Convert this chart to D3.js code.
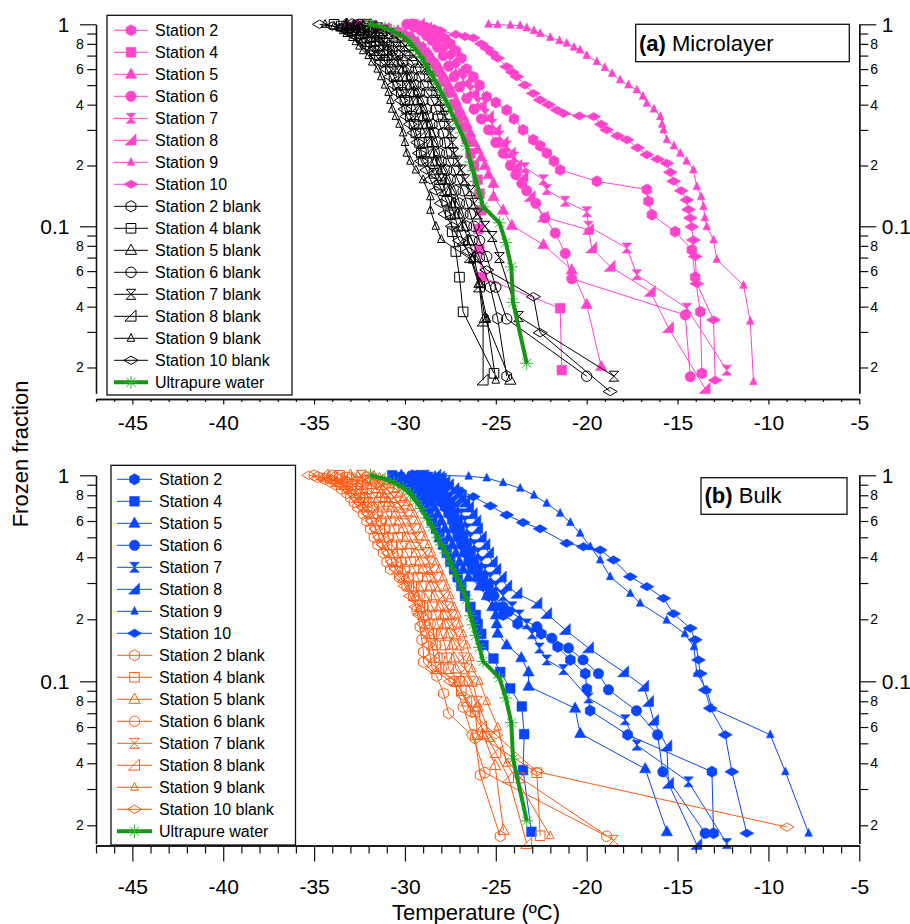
<!DOCTYPE html>
<html>
<head>
<meta charset="utf-8">
<script src="https://cdn.jsdelivr.net/npm/d3@7"></script>
<style>
  body { margin: 0; background: #fff; }
  svg { display: block; font-family: "Liberation Sans", Arial, Helvetica, sans-serif; }
</style>
</head>
<body>
<div id="chart"></div>
<script>
// ---- categories / ticks ----
const stationNames = ["Station 2", "Station 4", "Station 5", "Station 6", "Station 7", "Station 8", "Station 9", "Station 10"];
const stationShapes = ["hexagon", "square", "triangle", "circle", "hourglass", "wedge", "smallTri", "diamond"];
const xMajorTicks = [-45, -40, -35, -30, -25, -20, -15, -10, -5];
const xMinorTicks = [-47, -46, -44, -43, -42, -41, -39, -38, -37, -36, -34, -33, -32, -31, -29, -28, -27, -26, -24, -23, -22, -21, -19, -18, -17, -16, -14, -13, -12, -11, -9, -8, -7, -6];
const yMajorTicks = [1, 0.1];
const yMajorLabels = ["1", "0.1"];
const yMinorTicks = [0.9, 0.8, 0.7, 0.6, 0.5, 0.4, 0.3, 0.2, 0.09, 0.08, 0.07, 0.06, 0.05, 0.04, 0.03, 0.02];
const yMinorLabels = ["", "8", "", "6", "", "4", "", "2", "", "8", "", "6", "", "4", "", "2"];

// ---- data: [temperature (degC), frozen fraction] ----
// (a) Microlayer samples
const microS2 = [[-29.6,1],[-29.2,0.98],[-28.8,0.96],[-28.4,0.937],[-28.1,0.9],[-27.8,0.85],[-27.5,0.8],[-27.2,0.74],[-26.9,0.68],[-26.6,0.6],[-26.24,0.55],[-25.9,0.5],[-25.5,0.438],[-25.0,0.41],[-24.4,0.376],[-24.0,0.34],[-23.5,0.3],[-22.94,0.268],[-22.56,0.25],[-22.19,0.23],[-21.8,0.21],[-21.46,0.19],[-19.44,0.167],[-16.69,0.152],[-16.6,0.133],[-16.41,0.114],[-15.13,0.094],[-14.21,0.0764],[-14.03,0.056],[-13.75,0.0377],[-13.66,0.0187]];
const microS4 = [[-32.6,1],[-31.8,0.98],[-31.0,0.95],[-30.4,0.91],[-29.9,0.87],[-29.5,0.82],[-29.1,0.76],[-28.8,0.7],[-28.5,0.64],[-28.2,0.58],[-27.9,0.52],[-27.6,0.46],[-27.3,0.4],[-27.0,0.35],[-26.8,0.31],[-26.6,0.27],[-26.4,0.23],[-26.2,0.2],[-26.0,0.17],[-25.9,0.145],[-25.8,0.12],[-25.95,0.097],[-25.9,0.077],[-25.77,0.056],[-21.46,0.0393],[-21.37,0.0194]];
const microS5 = [[-33.2,1],[-32.4,0.99],[-31.6,0.97],[-30.9,0.95],[-30.4,0.93],[-30.0,0.9],[-29.6,0.86],[-29.3,0.81],[-29.0,0.77],[-28.7,0.72],[-28.5,0.68],[-28.2,0.63],[-28.0,0.58],[-27.8,0.54],[-27.6,0.5],[-27.4,0.46],[-27.2,0.42],[-27.0,0.38],[-26.8,0.35],[-26.6,0.32],[-26.4,0.29],[-26.2,0.26],[-26.0,0.24],[-25.8,0.22],[-25.6,0.2],[-25.4,0.18],[-25.13,0.163],[-25.13,0.14],[-24.6,0.12],[-24.12,0.101],[-22.38,0.081],[-20.82,0.0608],[-20.0,0.041],[-19.2,0.0202]];
const microS6 = [[-29.9,1],[-29.5,0.97],[-29.1,0.93],[-28.8,0.88],[-28.5,0.83],[-28.2,0.77],[-27.9,0.7],[-27.6,0.62],[-27.3,0.55],[-27.0,0.49],[-26.6,0.43],[-26.2,0.38],[-25.8,0.34],[-25.4,0.3],[-25.0,0.26],[-24.6,0.23],[-24.2,0.2],[-23.9,0.18],[-23.57,0.163],[-23.3,0.15],[-22.8,0.13],[-22.3,0.11],[-21.73,0.0926],[-21.18,0.0734],[-20.82,0.055],[-14.58,0.0364],[-14.3,0.018]];
const microS7 = [[-29.5,1],[-29.1,0.96],[-28.7,0.91],[-28.4,0.86],[-28.1,0.8],[-27.8,0.73],[-27.5,0.66],[-27.2,0.6],[-26.8,0.53],[-26.4,0.47],[-26.0,0.41],[-25.6,0.36],[-25.2,0.32],[-24.8,0.28],[-24.4,0.25],[-24.0,0.22],[-23.4,0.195],[-22.38,0.17],[-22.2,0.152],[-21.18,0.133],[-19.99,0.118],[-19.9,0.1],[-17.79,0.078],[-17.24,0.0575],[-14.49,0.0393],[-12.29,0.0194]];
const microS8 = [[-29.2,1],[-28.8,0.96],[-28.5,0.92],[-28.2,0.86],[-27.9,0.8],[-27.6,0.73],[-27.3,0.66],[-27.0,0.59],[-26.6,0.52],[-26.2,0.46],[-25.8,0.4],[-25.4,0.35],[-25.0,0.3],[-24.6,0.26],[-24.2,0.23],[-23.84,0.2],[-23.5,0.176],[-23.11,0.14],[-22.38,0.111],[-19.9,0.0962],[-19.72,0.078],[-18.71,0.0632],[-16.5,0.0475],[-15.5,0.0314],[-13.48,0.0157]];
const microS9 = [[-25.4,1],[-24.9,0.995],[-24.2,0.99],[-23.66,0.985],[-23.3,0.96],[-22.9,0.93],[-22.56,0.9],[-22.0,0.86],[-21.5,0.83],[-21.1,0.805],[-20.7,0.77],[-20.36,0.746],[-20.0,0.7],[-19.44,0.653],[-19.0,0.61],[-18.6,0.57],[-18.16,0.53],[-17.7,0.5],[-17.24,0.473],[-16.9,0.44],[-16.69,0.406],[-16.3,0.38],[-15.95,0.349],[-15.85,0.32],[-15.77,0.3],[-15.59,0.268],[-15.2,0.25],[-14.85,0.23],[-14.5,0.21],[-14.13,0.19],[-13.94,0.157],[-13.7,0.14],[-13.57,0.125],[-13.5,0.11],[-13.39,0.0994],[-13.02,0.0856],[-12.84,0.0684],[-11.37,0.051],[-11.0,0.0339],[-10.82,0.017]];
const microS10 = [[-29.4,1],[-29.1,0.98],[-28.8,0.96],[-28.06,0.93],[-27.2,0.89],[-26.7,0.87],[-26.24,0.855],[-25.8,0.8],[-25.5,0.76],[-25.2,0.72],[-24.9,0.68],[-24.4,0.617],[-24.1,0.58],[-23.84,0.55],[-23.4,0.5],[-22.94,0.455],[-22.56,0.422],[-22.1,0.4],[-21.64,0.376],[-21.28,0.362],[-20.4,0.352],[-19.62,0.349],[-19.2,0.32],[-18.9,0.3],[-18.3,0.28],[-17.79,0.268],[-17.2,0.245],[-16.69,0.226],[-16.1,0.215],[-15.59,0.205],[-15.4,0.185],[-15.22,0.167],[-14.8,0.15],[-14.49,0.135],[-14.4,0.121],[-14.3,0.11],[-14.22,0.0994],[-14.13,0.0856],[-14.03,0.0708],[-13.94,0.052],[-13.02,0.0344],[-12.93,0.0173]];

// (a) Microlayer blanks
const microS2b = [[-32.9,1],[-32.6,0.98],[-32.3,0.96],[-32.0,0.93],[-31.7,0.9],[-31.4,0.86],[-31.1,0.82],[-30.9,0.78],[-30.7,0.74],[-30.4,0.7],[-30.1,0.65],[-29.8,0.6],[-29.6,0.55],[-29.4,0.5],[-29.2,0.46],[-29.0,0.42],[-28.8,0.38],[-28.7,0.35],[-28.5,0.32],[-28.4,0.29],[-28.2,0.26],[-28.1,0.23],[-28.0,0.21],[-27.7,0.19],[-27.5,0.17],[-27.2,0.15],[-27.0,0.13],[-26.8,0.115],[-26.6,0.1],[-26.3,0.085],[-25.9,0.07],[-25.3,0.05],[-24.9,0.035],[-24.4,0.0181]];
const microS4b = [[-33.9,1],[-33.5,0.98],[-33.2,0.96],[-32.9,0.93],[-32.7,0.9],[-32.4,0.86],[-32.1,0.82],[-31.9,0.78],[-31.7,0.74],[-31.4,0.7],[-31.1,0.65],[-30.8,0.6],[-30.6,0.55],[-30.4,0.5],[-30.2,0.46],[-30.0,0.42],[-29.9,0.38],[-29.7,0.35],[-29.5,0.32],[-29.4,0.29],[-29.2,0.26],[-29.1,0.23],[-29.0,0.21],[-28.4,0.183],[-28.1,0.16],[-27.7,0.133],[-27.5,0.114],[-27.4,0.094],[-27.2,0.075],[-27.0,0.056],[-26.8,0.0377],[-25.1,0.0187]];
const microS5b = [[-33.2,1],[-32.8,0.98],[-32.5,0.96],[-32.3,0.93],[-32.0,0.9],[-31.7,0.86],[-31.4,0.82],[-31.2,0.78],[-31.0,0.74],[-30.7,0.7],[-30.4,0.65],[-30.1,0.6],[-29.9,0.55],[-29.7,0.5],[-29.5,0.46],[-29.3,0.42],[-29.1,0.38],[-29.0,0.35],[-28.8,0.32],[-28.6,0.29],[-28.5,0.26],[-28.4,0.23],[-28.3,0.21],[-28.0,0.19],[-27.8,0.17],[-27.5,0.15],[-27.3,0.13],[-27.1,0.115],[-26.8,0.1],[-26.5,0.085],[-26.2,0.07],[-25.9,0.052],[-25.6,0.035],[-24.2,0.0173]];
const microS6b = [[-32.5,1],[-32.2,0.98],[-31.9,0.96],[-31.6,0.93],[-31.3,0.9],[-31.0,0.86],[-30.7,0.82],[-30.5,0.78],[-30.3,0.74],[-30.0,0.7],[-29.6,0.65],[-29.4,0.6],[-29.2,0.55],[-29.0,0.5],[-28.8,0.46],[-28.5,0.42],[-28.3,0.38],[-28.2,0.35],[-28.1,0.32],[-27.9,0.29],[-27.8,0.26],[-27.7,0.23],[-27.6,0.21],[-27.3,0.19],[-27.1,0.17],[-26.8,0.15],[-26.6,0.13],[-26.4,0.115],[-26.2,0.1],[-25.9,0.085],[-25.5,0.0708],[-25.0,0.05],[-24.4,0.0348],[-20.0,0.0181]];
const microS7b = [[-32.1,1],[-31.8,0.98],[-31.5,0.96],[-31.2,0.93],[-30.9,0.9],[-30.5,0.86],[-30.2,0.82],[-30.0,0.78],[-29.8,0.74],[-29.5,0.7],[-29.2,0.65],[-28.9,0.6],[-28.7,0.55],[-28.5,0.5],[-28.3,0.46],[-28.1,0.42],[-27.9,0.38],[-27.8,0.35],[-27.6,0.32],[-27.5,0.29],[-27.4,0.26],[-27.3,0.23],[-27.1,0.21],[-26.9,0.19],[-26.7,0.17],[-26.4,0.15],[-26.2,0.13],[-26.0,0.115],[-25.6,0.1],[-25.2,0.089],[-24.8,0.07],[-23.75,0.0357],[-18.5,0.0181]];
const microS8b = [[-33.5,1],[-33.1,0.98],[-32.8,0.96],[-32.5,0.93],[-32.3,0.9],[-31.9,0.86],[-31.7,0.82],[-31.5,0.78],[-31.2,0.74],[-31.0,0.7],[-30.7,0.65],[-30.4,0.6],[-30.2,0.55],[-30.0,0.5],[-29.8,0.46],[-29.6,0.42],[-29.4,0.38],[-29.3,0.35],[-29.1,0.32],[-28.9,0.29],[-28.8,0.26],[-28.7,0.23],[-28.5,0.21],[-28.3,0.19],[-28.0,0.17],[-27.8,0.15],[-27.5,0.13],[-27.3,0.115],[-27.1,0.1],[-26.8,0.085],[-26.4,0.07],[-25.9,0.05],[-25.7,0.0339],[-25.7,0.0173]];
const microS9b = [[-34.4,1],[-33.9,0.98],[-33.6,0.96],[-33.4,0.93],[-33.2,0.9],[-32.9,0.86],[-32.7,0.82],[-32.5,0.78],[-32.3,0.74],[-32.0,0.7],[-31.8,0.65],[-31.5,0.6],[-31.3,0.55],[-31.1,0.5],[-30.9,0.46],[-30.8,0.42],[-30.7,0.38],[-30.5,0.35],[-30.3,0.32],[-30.1,0.29],[-30.0,0.26],[-29.9,0.23],[-29.7,0.21],[-29.4,0.19],[-29.0,0.17],[-28.6,0.14],[-28.6,0.12],[-28.3,0.1],[-28.0,0.086],[-26.3,0.068],[-25.9,0.052],[-25.5,0.035],[-25.0,0.0173]];
const microS10b = [[-34.7,1],[-34.0,0.98],[-33.5,0.96],[-33.2,0.93],[-33.0,0.9],[-32.6,0.86],[-32.3,0.82],[-32.1,0.78],[-31.8,0.74],[-31.6,0.7],[-31.3,0.65],[-31.0,0.6],[-30.8,0.55],[-30.6,0.5],[-30.4,0.46],[-30.2,0.42],[-30.0,0.38],[-29.9,0.35],[-29.7,0.32],[-29.5,0.29],[-29.3,0.26],[-29.2,0.23],[-29.1,0.21],[-28.8,0.19],[-28.6,0.17],[-28.3,0.15],[-28.0,0.13],[-27.8,0.115],[-27.4,0.1],[-27.0,0.085],[-26.5,0.075],[-25.5,0.0608],[-22.93,0.0448],[-22.56,0.0297],[-18.71,0.0152]];

// (b) Bulk samples
const bulkS2 = [[-29.6,1],[-29.3,0.98],[-29.2,0.96],[-29.0,0.93],[-28.8,0.9],[-28.5,0.86],[-28.3,0.82],[-28.1,0.78],[-28.0,0.74],[-27.8,0.7],[-27.6,0.65],[-27.4,0.6],[-27.3,0.55],[-27.1,0.5],[-26.9,0.46],[-26.7,0.42],[-26.5,0.38],[-26.3,0.35],[-26.0,0.32],[-25.7,0.29],[-25.4,0.26],[-25.0,0.23],[-24.6,0.21],[-23.8,0.19],[-22.5,0.17],[-21.6,0.147],[-20.9,0.127],[-20.08,0.109],[-19.99,0.092],[-19.81,0.072],[-17.75,0.055],[-13.11,0.0364],[-13.02,0.0183]];
const bulkS4 = [[-30.7,1],[-30.3,0.98],[-30.2,0.96],[-30.0,0.93],[-29.8,0.9],[-29.5,0.86],[-29.3,0.82],[-29.1,0.78],[-29.0,0.74],[-28.9,0.7],[-28.7,0.65],[-28.5,0.6],[-28.3,0.55],[-28.1,0.5],[-27.9,0.46],[-27.7,0.42],[-27.5,0.38],[-27.3,0.35],[-27.1,0.32],[-26.9,0.29],[-26.7,0.26],[-26.4,0.23],[-26.1,0.21],[-26.0,0.19],[-25.8,0.17],[-25.68,0.15],[-25.13,0.129],[-24.76,0.111],[-24.21,0.0924],[-23.57,0.0755],[-23.44,0.0554],[-23.5,0.0371],[-23.04,0.0186]];
const bulkS5 = [[-30.2,1],[-29.8,0.98],[-29.7,0.96],[-29.5,0.93],[-29.3,0.9],[-29.0,0.86],[-28.8,0.82],[-28.6,0.78],[-28.5,0.74],[-28.4,0.7],[-28.2,0.65],[-28.0,0.6],[-27.8,0.55],[-27.6,0.5],[-27.4,0.46],[-27.2,0.42],[-27.0,0.38],[-26.8,0.35],[-26.5,0.32],[-25.9,0.29],[-25.5,0.26],[-25.2,0.23],[-25.0,0.21],[-24.95,0.19],[-24.9,0.171],[-24.4,0.15],[-23.6,0.13],[-23.2,0.111],[-23.2,0.0945],[-20.64,0.074],[-20.36,0.0558],[-16.78,0.0376],[-15.59,0.0186]];
const bulkS6 = [[-29.3,1],[-29.0,0.98],[-28.9,0.96],[-28.7,0.93],[-28.5,0.9],[-28.2,0.86],[-28.0,0.82],[-27.8,0.78],[-27.7,0.74],[-27.5,0.7],[-27.3,0.65],[-27.1,0.6],[-27.0,0.55],[-26.8,0.5],[-26.6,0.46],[-26.4,0.42],[-26.2,0.38],[-26.0,0.35],[-25.7,0.32],[-25.4,0.29],[-25.1,0.26],[-24.6,0.23],[-24.3,0.218],[-22.74,0.184],[-21.92,0.162],[-21.0,0.145],[-20.2,0.127],[-19.35,0.109],[-18.8,0.091],[-17.26,0.072],[-16.1,0.055],[-15.81,0.0364],[-13.48,0.0183]];
const bulkS7 = [[-28.9,1],[-28.7,0.98],[-28.5,0.96],[-28.3,0.93],[-28.1,0.9],[-27.9,0.86],[-27.7,0.82],[-27.5,0.78],[-27.3,0.74],[-27.1,0.7],[-26.9,0.65],[-26.7,0.6],[-26.6,0.55],[-26.4,0.5],[-26.2,0.46],[-26.0,0.42],[-25.8,0.38],[-25.6,0.35],[-25.3,0.32],[-25.0,0.29],[-24.6,0.26],[-24.1,0.23],[-23.7,0.21],[-23.3,0.19],[-23.0,0.17],[-22.6,0.145],[-22.2,0.127],[-21.28,0.114],[-19.9,0.083],[-17.88,0.065],[-17.24,0.049],[-14.4,0.0325],[-12.29,0.0163]];
const bulkS8 = [[-28.3,1],[-28.1,0.98],[-28.0,0.96],[-27.8,0.93],[-27.6,0.9],[-27.3,0.86],[-27.1,0.82],[-26.9,0.78],[-26.7,0.74],[-26.5,0.7],[-26.3,0.65],[-26.1,0.6],[-26.0,0.55],[-25.8,0.5],[-25.6,0.46],[-25.4,0.42],[-25.2,0.38],[-25.0,0.35],[-24.7,0.32],[-24.4,0.29],[-23.84,0.267],[-22.74,0.239],[-22.2,0.213],[-21.18,0.178],[-19.9,0.145],[-17.97,0.111],[-16.87,0.0945],[-16.6,0.0797],[-16.32,0.0646],[-15.59,0.0484],[-15.5,0.0319],[-13.94,0.0161]];
const bulkS9 = [[-28.34,1],[-26.5,0.99],[-25.5,0.97],[-24.6,0.92],[-23.66,0.865],[-22.9,0.8],[-22.2,0.731],[-21.46,0.654],[-20.9,0.59],[-20.36,0.523],[-19.8,0.45],[-19.26,0.388],[-18.71,0.322],[-17.6,0.267],[-17.06,0.239],[-15.6,0.198],[-14.6,0.17],[-14.1,0.147],[-13.94,0.109],[-13.39,0.0908],[-13.11,0.074],[-9.9,0.055],[-9.07,0.0364],[-7.79,0.0183]];
const bulkS10 = [[-29.4,1],[-28.5,0.95],[-27.7,0.897],[-26.97,0.84],[-26.24,0.787],[-25.3,0.71],[-24.4,0.642],[-23.5,0.59],[-22.56,0.55],[-21.1,0.468],[-20.18,0.45],[-19.26,0.434],[-18.52,0.388],[-17.6,0.322],[-16.69,0.288],[-15.77,0.253],[-15.22,0.213],[-14.3,0.181],[-14.03,0.159],[-13.85,0.127],[-13.75,0.109],[-13.48,0.0908],[-13.2,0.074],[-12.38,0.055],[-12.01,0.0364],[-11.19,0.0183]];

// (b) Bulk blanks
const bulkS2b = [[-35.0,1],[-34.8,0.98],[-34.4,0.96],[-34.1,0.93],[-33.8,0.9],[-33.5,0.86],[-33.2,0.82],[-33.0,0.78],[-32.8,0.74],[-32.6,0.7],[-32.3,0.65],[-32.1,0.6],[-31.9,0.55],[-31.7,0.5],[-31.5,0.46],[-31.2,0.42],[-31.0,0.38],[-30.8,0.35],[-30.3,0.32],[-29.9,0.29],[-29.53,0.257],[-29.35,0.222],[-29.17,0.184],[-29.07,0.159],[-28.98,0.139],[-28.98,0.124],[-28.25,0.106],[-27.88,0.0874],[-27.6,0.0699],[-26.14,0.0529],[-25.86,0.0351],[-24.76,0.0177]];
const bulkS4b = [[-33.6,1],[-33.2,0.98],[-32.9,0.96],[-32.6,0.93],[-32.4,0.9],[-32.1,0.86],[-31.8,0.82],[-31.6,0.78],[-31.4,0.74],[-31.2,0.7],[-31.0,0.65],[-30.8,0.6],[-30.6,0.55],[-30.4,0.5],[-30.2,0.46],[-29.9,0.42],[-29.7,0.38],[-29.5,0.35],[-29.3,0.32],[-29.1,0.29],[-28.8,0.26],[-28.5,0.23],[-28.3,0.21],[-28.2,0.19],[-28.0,0.17],[-27.8,0.15],[-27.7,0.13],[-27.6,0.115],[-27.0,0.1],[-26.9,0.09],[-26.14,0.071],[-26.0,0.055],[-22.74,0.036],[-22.56,0.0178]];
const bulkS5b = [[-33.0,1],[-32.6,0.98],[-32.3,0.96],[-32.1,0.93],[-31.8,0.9],[-31.5,0.86],[-31.3,0.82],[-31.1,0.78],[-30.9,0.74],[-30.7,0.7],[-30.5,0.65],[-30.3,0.6],[-30.1,0.55],[-29.9,0.5],[-29.7,0.46],[-29.4,0.42],[-29.2,0.38],[-29.0,0.35],[-28.8,0.32],[-28.6,0.29],[-28.4,0.26],[-28.1,0.23],[-27.9,0.21],[-27.8,0.19],[-27.6,0.17],[-27.4,0.15],[-27.3,0.13],[-27.2,0.115],[-26.6,0.1],[-26.0,0.075],[-25.7,0.055],[-25.04,0.039],[-24.58,0.0189]];
const bulkS6b = [[-34.0,1],[-33.8,0.98],[-33.5,0.96],[-33.2,0.93],[-32.9,0.9],[-32.6,0.86],[-32.4,0.82],[-32.2,0.78],[-32.0,0.74],[-31.8,0.7],[-31.5,0.65],[-31.3,0.6],[-31.1,0.55],[-30.9,0.5],[-30.7,0.46],[-30.4,0.42],[-30.2,0.38],[-30.0,0.35],[-29.8,0.32],[-29.5,0.29],[-29.2,0.26],[-29.0,0.23],[-28.8,0.21],[-28.6,0.19],[-28.4,0.17],[-28.3,0.15],[-28.1,0.13],[-28.0,0.115],[-27.3,0.1],[-26.8,0.075],[-26.3,0.055],[-25.6,0.036],[-18.9,0.0177]];
const bulkS7b = [[-32.4,1],[-32.0,0.98],[-31.8,0.96],[-31.5,0.93],[-31.3,0.9],[-31.0,0.86],[-30.8,0.82],[-30.6,0.78],[-30.4,0.74],[-30.2,0.7],[-30.0,0.65],[-29.8,0.6],[-29.6,0.55],[-29.4,0.5],[-29.2,0.46],[-28.9,0.42],[-28.7,0.38],[-28.6,0.35],[-28.4,0.32],[-28.2,0.29],[-27.9,0.26],[-27.7,0.23],[-27.5,0.21],[-27.4,0.19],[-27.2,0.17],[-27.0,0.15],[-26.8,0.13],[-26.7,0.115],[-26.3,0.1],[-26.0,0.08],[-25.3,0.054],[-23.66,0.034],[-18.52,0.0169]];
const bulkS8b = [[-34.5,1],[-34.4,0.98],[-34.0,0.96],[-33.7,0.93],[-33.3,0.9],[-33.0,0.86],[-32.7,0.82],[-32.5,0.78],[-32.3,0.74],[-32.1,0.7],[-31.8,0.65],[-31.6,0.6],[-31.4,0.55],[-31.2,0.5],[-31.0,0.46],[-30.7,0.42],[-30.5,0.38],[-30.4,0.35],[-30.1,0.32],[-29.8,0.29],[-29.5,0.26],[-29.2,0.23],[-29.0,0.21],[-28.9,0.19],[-28.7,0.17],[-28.5,0.15],[-28.4,0.13],[-28.3,0.115],[-27.2,0.1],[-26.6,0.08],[-25.8,0.06],[-25.0,0.045],[-24.3,0.034],[-23.3,0.0163]];
const bulkS9b = [[-31.7,1],[-31.4,0.98],[-31.2,0.96],[-31.0,0.93],[-30.8,0.9],[-30.5,0.86],[-30.3,0.82],[-30.1,0.78],[-29.9,0.74],[-29.7,0.7],[-29.5,0.65],[-29.3,0.6],[-29.1,0.55],[-28.9,0.5],[-28.7,0.46],[-28.5,0.42],[-28.3,0.38],[-28.1,0.35],[-27.9,0.32],[-27.7,0.29],[-27.5,0.26],[-27.3,0.23],[-27.1,0.21],[-27.0,0.19],[-26.8,0.17],[-26.6,0.15],[-26.4,0.13],[-26.3,0.115],[-25.9,0.1],[-25.5,0.08],[-24.9,0.06],[-24.4,0.04],[-22.01,0.0178]];
const bulkS10b = [[-35.3,1],[-34.6,0.98],[-34.1,0.96],[-33.8,0.93],[-33.5,0.9],[-33.2,0.86],[-32.9,0.82],[-32.7,0.78],[-32.5,0.74],[-32.3,0.7],[-32.0,0.65],[-31.8,0.6],[-31.6,0.55],[-31.4,0.5],[-31.2,0.46],[-30.9,0.42],[-30.7,0.38],[-30.5,0.35],[-30.2,0.32],[-30.0,0.29],[-29.7,0.26],[-29.4,0.23],[-29.2,0.21],[-29.0,0.19],[-28.8,0.17],[-28.7,0.15],[-28.6,0.13],[-28.5,0.115],[-27.5,0.1],[-26.8,0.085],[-26.3,0.07],[-25.0,0.055],[-22.74,0.0364],[-8.98,0.0196]];

// Ultrapure water reference (same in both panels)
const ultrapure = [[-31.9,1],[-31.1,0.96],[-30.6,0.92],[-30.1,0.87],[-29.7,0.81],[-29.4,0.75],[-29.1,0.69],[-28.8,0.62],[-28.5,0.56],[-28.2,0.5],[-28.0,0.46],[-27.75,0.42],[-27.5,0.375],[-27.2,0.33],[-26.9,0.29],[-26.6,0.25],[-26.4,0.208],[-26.25,0.188],[-26.1,0.167],[-25.9,0.146],[-25.7,0.125],[-24.8,0.104],[-24.45,0.083],[-24.15,0.063],[-24.05,0.042],[-23.3,0.021]];

const microSamples = [microS2, microS4, microS5, microS6, microS7, microS8, microS9, microS10];
const microBlanks = [microS2b, microS4b, microS5b, microS6b, microS7b, microS8b, microS9b, microS10b];
const bulkSamples = [bulkS2, bulkS4, bulkS5, bulkS6, bulkS7, bulkS8, bulkS9, bulkS10];
const bulkBlanks = [bulkS2b, bulkS4b, bulkS5b, bulkS6b, bulkS7b, bulkS8b, bulkS9b, bulkS10b];

// ---- style ----
const PINK = "#ff44cc", BLUE = "#0a46ff", ORANGE = "#ff5a14", GREEN = "#169616", GREEN_MK = "#2fb82f";
const W = 910, H = 924;
const X0 = 96, X1 = 859.3;

const panels = [
  { samples: microSamples, blanks: microBlanks, sampleColor: PINK, blankColor: "#000",
    yTop: 24.3, yBot: 393.3, fMin: 0.0149, axisY: 399, majLen: 5.5, minLen: 3, xLabelY: 16,
    legend: { x0: 107, y0: 15.3, x1: 292, y1: 395, row0: 30.3, lx0: 114, lx1: 148, tx: 155 },
    tag: { x0: 635.7, y0: 24.3, x1: 849.3, y1: 61.7, tx: 639, ty: 51, bold: "(a)", text: " Microlayer" } },
  { samples: bulkSamples, blanks: bulkBlanks, sampleColor: BLUE, blankColor: ORANGE,
    yTop: 475.3, yBot: 843.6, fMin: 0.0163, axisY: 845.5, majLen: 16, minLen: 8, xLabelY: 34,
    legend: { x0: 111, y0: 465.3, x1: 295.5, y1: 845, row0: 479.3, lx0: 117, lx1: 152, tx: 159 },
    tag: { x0: 701, y0: 477.7, x1: 847, y1: 514.3, tx: 704.5, ty: 503, bold: "(b)", text: " Bulk" } }
];

const svg = d3.select("#chart").append("svg").attr("width", W).attr("height", H);
svg.append("rect").attr("width", W).attr("height", H).attr("fill", "#fff");

const x = d3.scaleLinear().domain([-47, -5]).range([X0, X1]);

function markerPath(shape) {
  switch (shape) {
    case "hexagon": return "M0,-5.6L4.85,-2.8L4.85,2.8L0,5.6L-4.85,2.8L-4.85,-2.8Z";
    case "square": return "M-4.8,-4.8H4.8V4.8H-4.8Z";
    case "triangle": return "M0,-6.2L5.6,4L-5.6,4Z";
    case "circle": return "M5.2,0A5.2,5.2 0 1,1 -5.2,0A5.2,5.2 0 1,1 5.2,0Z";
    case "hourglass": return "M-4.8,-5L4.8,-5L-4.8,5L4.8,5Z";
    case "wedge": return "M5,-6.2L5,4.8L-6,4.8Z";
    case "smallTri": return "M0,-4.8L3.8,3L-3.8,3Z";
    case "diamond": return "M-7,0L0,-4.2L7,0L0,4.2Z";
    case "asterisk": return "M-6.5,0H6.5M0,-6.5V6.5M-4.6,-4.6L4.6,4.6M-4.6,4.6L4.6,-4.6";
  }
}

function drawSeries(g, data, y, color, shape, filled) {
  const line = d3.line().x(d => x(d[0])).y(d => y(d[1]));
  g.append("path").datum(data)
    .attr("d", line)
    .attr("fill", "none")
    .attr("stroke", color)
    .attr("stroke-width", 1);
  g.append("g").selectAll("path").data(data).join("path")
    .attr("transform", d => `translate(${x(d[0])},${y(d[1])})`)
    .attr("d", markerPath(shape))
    .attr("fill", filled ? color : "none")
    .attr("stroke", color)
    .attr("stroke-width", filled ? 0.6 : 1);
}

function drawUltrapure(g, y) {
  const line = d3.line().x(d => x(d[0])).y(d => y(d[1]));
  g.append("g").selectAll("path").data(ultrapure).join("path")
    .attr("transform", d => `translate(${x(d[0])},${y(d[1])})`)
    .attr("d", markerPath("asterisk"))
    .attr("fill", "none")
    .attr("stroke", GREEN_MK)
    .attr("stroke-width", 1);
  g.append("path").datum(ultrapure)
    .attr("d", line)
    .attr("fill", "none")
    .attr("stroke", GREEN)
    .attr("stroke-width", 4)
    .attr("stroke-linejoin", "round");
}

function styleAxis(sel) {
  sel.select(".domain").attr("stroke", "#111").attr("stroke-width", 1.3);
  sel.selectAll(".tick line").attr("stroke", "#111").attr("stroke-width", 1.2);
  sel.selectAll("text").attr("fill", "#000").attr("font-family", null);
}

panels.forEach(p => {
  const y = d3.scaleLog().domain([p.fMin, 1]).range([p.yBot, p.yTop]);
  const g = svg.append("g");

  // data
  const gData = g.append("g");
  p.samples.forEach((s, i) => drawSeries(gData, s, y, p.sampleColor, stationShapes[i], true));
  p.blanks.forEach((s, i) => drawSeries(gData, s, y, p.blankColor, stationShapes[i], false));
  drawUltrapure(gData, y);

  // x axis (minor + major)
  const gxMin = g.append("g").attr("transform", `translate(0,${p.axisY})`)
    .call(d3.axisBottom(x).tickValues(xMinorTicks).tickSize(p.minLen).tickSizeOuter(0).tickFormat(""));
  styleAxis(gxMin);
  const gxMaj = g.append("g").attr("transform", `translate(0,${p.axisY})`)
    .call(d3.axisBottom(x).tickValues(xMajorTicks).tickSize(p.majLen).tickSizeOuter(0).tickFormat(d => String(d)));
  styleAxis(gxMaj);
  gxMaj.selectAll("text").attr("y", p.xLabelY).attr("font-size", 21);

  // left y axis
  const gyMin = g.append("g").attr("transform", `translate(${X0},0)`)
    .call(d3.axisLeft(y).tickValues(yMinorTicks).tickSize(8.7).tickPadding(3.5).tickSizeOuter(0)
      .tickFormat((d, i) => yMinorLabels[i]));
  styleAxis(gyMin);
  gyMin.selectAll("text").attr("font-size", 14);
  const gyMaj = g.append("g").attr("transform", `translate(${X0},0)`)
    .call(d3.axisLeft(y).tickValues(yMajorTicks).tickSize(16).tickPadding(10.5).tickSizeOuter(0)
      .tickFormat((d, i) => yMajorLabels[i]));
  styleAxis(gyMaj);
  gyMaj.selectAll("text").attr("font-size", 21);

  // right y axis
  const gyMinR = g.append("g").attr("transform", `translate(${X1},0)`)
    .call(d3.axisRight(y).tickValues(yMinorTicks).tickSize(9).tickPadding(2).tickSizeOuter(0)
      .tickFormat((d, i) => yMinorLabels[i]));
  styleAxis(gyMinR);
  gyMinR.selectAll("text").attr("font-size", 14);
  const gyMajR = g.append("g").attr("transform", `translate(${X1},0)`)
    .call(d3.axisRight(y).tickValues(yMajorTicks).tickSize(17).tickPadding(5.5).tickSizeOuter(0)
      .tickFormat((d, i) => yMajorLabels[i]));
  styleAxis(gyMajR);
  gyMajR.selectAll("text").attr("font-size", 21);

  // legend
  const L = p.legend;
  const gl = g.append("g");
  gl.append("rect").attr("x", L.x0).attr("y", L.y0)
    .attr("width", L.x1 - L.x0).attr("height", L.y1 - L.y0)
    .attr("fill", "#fff").attr("stroke", "#111").attr("stroke-width", 1.3);
  const entries = [];
  stationNames.forEach((n, i) => entries.push({ name: n, color: p.sampleColor, shape: stationShapes[i], filled: true }));
  stationNames.forEach((n, i) => entries.push({ name: n + " blank", color: p.blankColor, shape: stationShapes[i], filled: false }));
  entries.push({ name: "Ultrapure water", color: GREEN, shape: "asterisk", filled: false, thick: true });
  entries.forEach((e, i) => {
    const cy = L.row0 + i * 22;
    const cx = (L.lx0 + L.lx1) / 2;
    gl.append("line").attr("x1", L.lx0).attr("x2", L.lx1).attr("y1", cy).attr("y2", cy)
      .attr("stroke", e.color).attr("stroke-width", e.thick ? 4 : 1);
    gl.append("path").attr("transform", `translate(${cx},${cy})`)
      .attr("d", markerPath(e.shape))
      .attr("fill", e.filled ? e.color : "none")
      .attr("stroke", e.thick ? GREEN_MK : e.color)
      .attr("stroke-width", e.filled ? 0.6 : 1);
    gl.append("text").attr("x", L.tx).attr("y", cy).attr("dy", "0.36em")
      .attr("font-size", 16).text(e.name);
  });

  // panel tag
  const T = p.tag;
  g.append("rect").attr("x", T.x0).attr("y", T.y0).attr("width", T.x1 - T.x0).attr("height", T.y1 - T.y0)
    .attr("fill", "#fff").attr("stroke", "#111").attr("stroke-width", 1.3);
  const tt = g.append("text").attr("x", T.tx).attr("y", T.ty).attr("font-size", 22);
  tt.append("tspan").attr("font-weight", "bold").text(T.bold);
  tt.append("tspan").text(T.text);
});

// axis titles
svg.append("text").attr("transform", "translate(28,454) rotate(-90)")
  .attr("text-anchor", "middle").attr("font-size", 22).text("Frozen fraction");
svg.append("text").attr("x", 476).attr("y", 920)
  .attr("text-anchor", "middle").attr("font-size", 22).text("Temperature (\u00baC)");
</script>
</body>
</html>
